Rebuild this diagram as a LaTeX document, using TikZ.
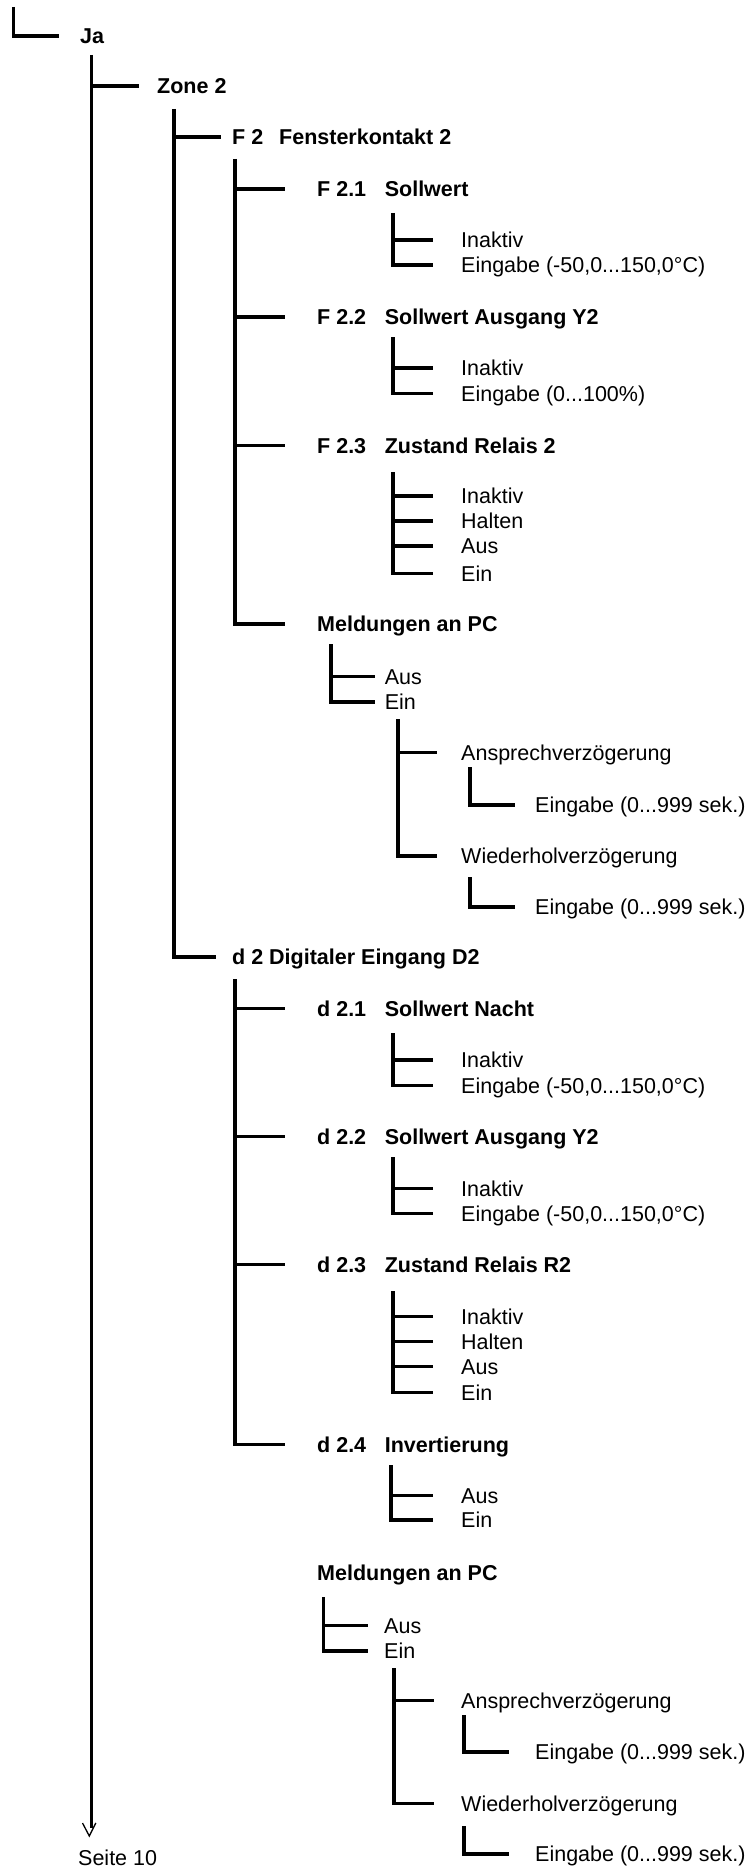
\documentclass[tikz,border=0pt]{standalone}
\usepackage{fontspec}
\setmainfont{Liberation Sans}
\usetikzlibrary{calc}
\newcommand\lblsize{\fontsize{21.5pt}{24pt}\selectfont}
\begin{document}
\begin{tikzpicture}[x=1pt,y=-1pt,
  tree/.style={line width=3.3pt},
  opt/.style={anchor=west,inner sep=0pt,text height=18pt,text depth=2.6pt,font=\lblsize},
  head/.style={opt,font=\lblsize\bfseries}]
\useasboundingbox (0,0) rectangle (749,1867);

% ---------- labels ----------
\node[head] (ja)   at (80,36)  {Ja};
\node[head] (zone) at (157,86) {Zone 2};
\node[head] (f2)   at (232,137) {\makebox[47pt][l]{F 2}Fensterkontakt 2};

\node[head] (f21)  at (317,189) {\makebox[67.6pt][l]{F 2.1}Sollwert};
\node[opt]  (f21a) at (461,240) {Inaktiv};
\node[opt]  (f21b) at (461,265) {Eingabe (-50,0...150,0°C)};

\node[head] (f22)  at (317,317) {\makebox[67.6pt][l]{F 2.2}Sollwert Ausgang Y2};
\node[opt]  (f22a) at (461,368) {Inaktiv};
\node[opt]  (f22b) at (461,393.5) {Eingabe (0...100\%)};

\node[head] (f23)  at (317,445.5) {\makebox[67.6pt][l]{F 2.3}Zustand Relais 2};
\node[opt]  (f23a) at (461,496) {Inaktiv};
\node[opt]  (f23b) at (461,521) {Halten};
\node[opt]  (f23c) at (461,546) {Aus};
\node[opt]  (f23d) at (461,573.7) {Ein};

\node[head] (mf)   at (317,624) {Meldungen an PC};
\node[opt]  (mfa)  at (384.6,676.3) {Aus};
\node[opt]  (mfb)  at (384.6,702) {Ein};
\node[opt]  (mfc)  at (461,752.7) {Ansprechverzögerung};
\node[opt]  (mfce) at (535,805) {Eingabe (0...999 sek.)};
\node[opt]  (mfd)  at (461,856) {Wiederholverzögerung};
\node[opt]  (mfde) at (535,907) {Eingabe (0...999 sek.)};

\node[head] (d2)   at (232,957) {d 2 Digitaler Eingang D2};

\node[head] (d21)  at (317,1008.7) {\makebox[67.6pt][l]{d 2.1}Sollwert Nacht};
\node[opt]  (d21a) at (461,1060) {Inaktiv};
\node[opt]  (d21b) at (461,1085.5) {Eingabe (-50,0...150,0°C)};

\node[head] (d22)  at (317,1136.5) {\makebox[67.6pt][l]{d 2.2}Sollwert Ausgang Y2};
\node[opt]  (d22a) at (461,1188.3) {Inaktiv};
\node[opt]  (d22b) at (461,1213.7) {Eingabe (-50,0...150,0°C)};

\node[head] (d23)  at (317,1264.5) {\makebox[67.6pt][l]{d 2.3}Zustand Relais R2};
\node[opt]  (d23a) at (461,1316.3) {Inaktiv};
\node[opt]  (d23b) at (461,1341.3) {Halten};
\node[opt]  (d23c) at (461,1366.3) {Aus};
\node[opt]  (d23d) at (461,1392.7) {Ein};

\node[head] (d24)  at (317,1444.5) {\makebox[67.6pt][l]{d 2.4}Invertierung};
\node[opt]  (d24a) at (461,1495.5) {Aus};
\node[opt]  (d24b) at (461,1520) {Ein};

\node[head] (md)   at (317,1573) {Meldungen an PC};
\node[opt]  (mda)  at (384,1625.3) {Aus};
\node[opt]  (mdb)  at (384,1651) {Ein};
\node[opt]  (mdc)  at (461,1700.8) {Ansprechverzögerung};
\node[opt]  (mdce) at (535,1752) {Eingabe (0...999 sek.)};
\node[opt]  (mdd)  at (461,1803.8) {Wiederholverzögerung};
\node[opt]  (mdde) at (535,1854) {Eingabe (0...999 sek.)};

\node[opt]  (seite) at (78,1857.5) {Seite 10};

% ---------- spine tops ----------
\coordinate (c0)    at (13.5,7);
\coordinate (s1)    at (91.5,55);
\coordinate (tip)   at (91.5,1828);
\coordinate (s2)    at (174,109);
\coordinate (s3)    at (235,159);
\coordinate (sf21)  at (393,213);
\coordinate (sf22)  at (393,337);
\coordinate (sf23)  at (393,472);
\coordinate (smf)   at (331,644);
\coordinate (smfb)  at (398,719);
\coordinate (smfc)  at (470,767);
\coordinate (smfd)  at (470,877);
\coordinate (s3d)   at (235,979);
\coordinate (sd21)  at (393,1033);
\coordinate (sd22)  at (393,1157);
\coordinate (sd23)  at (393,1291);
\coordinate (sd24)  at (391,1465);
\coordinate (smd)   at (323.5,1597);
\coordinate (smdb)  at (394,1668);
\coordinate (smdc)  at (464,1715);
\coordinate (smdd)  at (464,1826);

% ---------- connectors ----------
\draw[tree] (c0) |- ([xshift=-21.4pt]ja.west);

% main line with open tip towards the next page
\draw[tree] (s1) -- (tip);
\draw[line width=1.3pt] ($(tip)+(-9,-5)$) -- ($(tip)+(-2.2,8)$) -- ($(tip)+(4.3,-5)$);
\draw[tree] (s1 |- zone.west) -- ([xshift=-18pt]zone.west);

\draw[tree] (s2) |- ([xshift=-16pt]d2.west);
\draw[tree] (s2 |- f2.west) -- ([xshift=-11pt]f2.west);

% Fensterkontakt 2
\draw[tree] (s3) |- ([xshift=-32.5pt]mf.west);
\foreach \n in {f21,f22,f23}
  \draw[tree] (s3 |- \n.west) -- ([xshift=-32.5pt]\n.west);

\draw[tree] (sf21) |- ([xshift=-28pt]f21b.west);
\draw[tree] (sf21 |- f21a.west) -- ([xshift=-28pt]f21a.west);

\draw[tree] (sf22) |- ([xshift=-28pt]f22b.west);
\draw[tree] (sf22 |- f22a.west) -- ([xshift=-28pt]f22a.west);

\draw[tree] (sf23) |- ([xshift=-28pt]f23d.west);
\foreach \n in {f23a,f23b,f23c}
  \draw[tree] (sf23 |- \n.west) -- ([xshift=-28pt]\n.west);

\draw[tree] (smf) |- ([xshift=-9.6pt]mfb.west);
\draw[tree] (smf |- mfa.west) -- ([xshift=-9.6pt]mfa.west);

\draw[tree] (smfb) |- ([xshift=-24pt]mfd.west);
\draw[tree] (smfb |- mfc.west) -- ([xshift=-24pt]mfc.west);

\draw[tree] (smfc) |- ([xshift=-20pt]mfce.west);
\draw[tree] (smfd) |- ([xshift=-20pt]mfde.west);

% Digitaler Eingang D2
\draw[tree] (s3d) |- ([xshift=-32.5pt]d24.west);
\foreach \n in {d21,d22,d23}
  \draw[tree] (s3d |- \n.west) -- ([xshift=-32.5pt]\n.west);

\draw[tree] (sd21) |- ([xshift=-28pt]d21b.west);
\draw[tree] (sd21 |- d21a.west) -- ([xshift=-28pt]d21a.west);

\draw[tree] (sd22) |- ([xshift=-28pt]d22b.west);
\draw[tree] (sd22 |- d22a.west) -- ([xshift=-28pt]d22a.west);

\draw[tree] (sd23) |- ([xshift=-28pt]d23d.west);
\foreach \n in {d23a,d23b,d23c}
  \draw[tree] (sd23 |- \n.west) -- ([xshift=-28pt]\n.west);

\draw[tree] (sd24) |- ([xshift=-28pt]d24b.west);
\draw[tree] (sd24 |- d24a.west) -- ([xshift=-28pt]d24a.west);

\draw[tree] (smd) |- ([xshift=-16pt]mdb.west);
\draw[tree] (smd |- mda.west) -- ([xshift=-16pt]mda.west);

\draw[tree] (smdb) |- ([xshift=-27pt]mdd.west);
\draw[tree] (smdb |- mdc.west) -- ([xshift=-27pt]mdc.west);

\draw[tree] (smdc) |- ([xshift=-26pt]mdce.west);
\draw[tree] (smdd) |- ([xshift=-26pt]mdde.west);
\end{tikzpicture}
\end{document}
